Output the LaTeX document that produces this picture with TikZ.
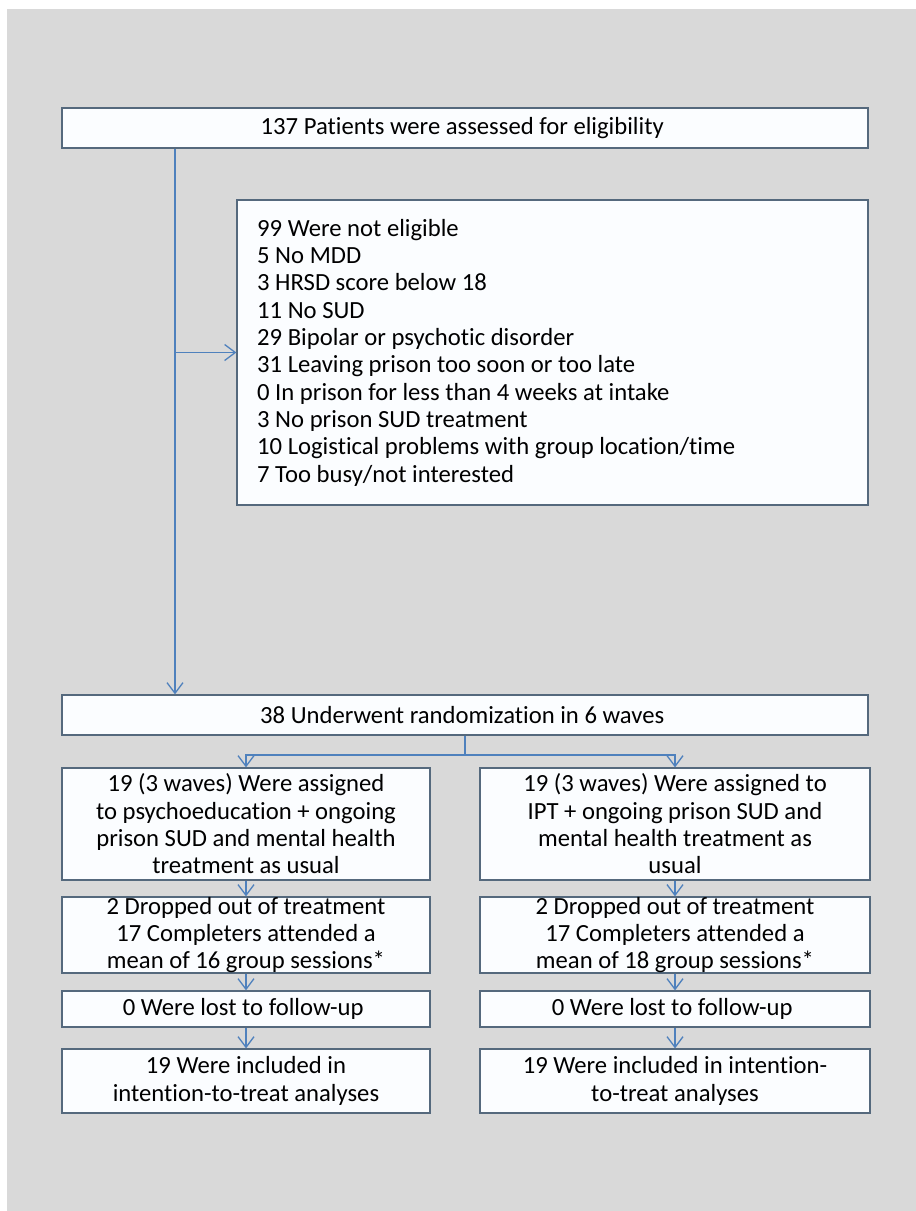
\documentclass[tikz,border=0pt]{standalone}
\usepackage{fontspec}
\setmainfont{Carlito}[Ligatures=NoCommon]
\usepackage{xcolor}
\usepackage{tikz}
\usetikzlibrary{arrows.meta, positioning, calc}
\definecolor{bggray}{RGB}{217, 217, 217}
\definecolor{boxline}{RGB}{85, 105, 125}
\definecolor{boxfill}{RGB}{251, 253, 255}
\definecolor{arrowblue}{RGB}{79, 129, 189}

\tikzset{
    flowbox/.style={draw=boxline, fill=boxfill, line width=0.9pt, inner sep=0pt, align=center,
        font=\fontsize{18.5}{20.5}\selectfont},
    flowarrow/.style={-{Straight Barb[length=8pt, width=12pt]}, arrowblue, line width=1pt},
    flowline/.style={arrowblue, line width=1pt}
}

\begin{document}
\begin{tikzpicture}[x=0.75pt, y=-0.75pt]
        % Background
        \fill[white] (0,0) rectangle (916,1211);
        \fill[bggray] (7,9) rectangle (916,1211);
        \useasboundingbox (0,0) rectangle (916,1211);

        % Assessed Box
        \node[flowbox, minimum width=604.5pt, minimum height=30pt] (assess) at (465,128) {
            137 Patients were assessed for eligibility
        };

        % Not eligible Box
        \node[flowbox, minimum width=473.25pt, minimum height=228.75pt, text width=443pt, align=flush left] (excl) at (552.5,352.5) {
            99 Were not eligible\\
            5 No MDD\\
            3 HRSD score below 18\\
            11 No SUD\\
            29 Bipolar or psychotic disorder\\
            31 Leaving prison too soon or too late\\
            0 In prison for less than 4 weeks at intake\\
            3 No prison SUD treatment\\
            10 Logistical problems with group location/time\\
            7 Too busy/not interested
        };

        % Randomization Box
        \node[flowbox, minimum width=604.5pt, minimum height=30pt] (rand) at (465,715) {
            38 Underwent randomization in 6 waves
        };

        % Assignment Boxes
        \node[flowbox, minimum width=276pt, minimum height=84pt] (psyassign) at (246,824) {
            19 (3 waves) Were assigned\\to psychoeducation + ongoing\\prison SUD and mental health\\treatment as usual
        };
        \node[flowbox, minimum width=292.5pt, minimum height=84pt] (iptassign) at (675,824) {
            19 (3 waves) Were assigned to\\IPT + ongoing prison SUD and\\mental health treatment as\\usual
        };

        % Treatment Boxes
        \node[flowbox, minimum width=276pt, minimum height=52pt] (psytreat) at (246,935) {
            2 Dropped out of treatment\\17 Completers attended a\\mean of 16 group sessions*
        };
        \node[flowbox, minimum width=292.5pt, minimum height=52pt] (ipttreat) at (675,935) {
            2 Dropped out of treatment\\17 Completers attended a\\mean of 18 group sessions*
        };

        % Follow-up Boxes
        \node[flowbox, minimum width=276pt, minimum height=27pt] (psylost) at (246,1009) {
            0 Were lost to follow-up
        };
        \node[flowbox, minimum width=292.5pt, minimum height=27pt] (iptlost) at (675,1009) {
            0 Were lost to follow-up
        };

        % Analysis Boxes
        \node[flowbox, minimum width=276pt, minimum height=48pt] (psyitt) at (246,1081) {
            19 Were included in\\intention-to-treat analyses
        };
        \node[flowbox, minimum width=292.5pt, minimum height=48pt] (iptitt) at (675,1081) {
            19 Were included in intention-\\to-treat analyses
        };

        % Arrows
        \coordinate (trunk) at (175,0);
        \coordinate (split) at (465,755);
        \draw[flowarrow] (assess.south -| trunk) -- (rand.north -| trunk);
        \draw[flowarrow] (excl.west -| trunk) -- (excl.west);
        \draw[flowline] (rand.south) -- (split);
        \draw[flowarrow] (split) -| (psyassign.north);
        \draw[flowarrow] (split) -| (iptassign.north);
        \draw[flowarrow] (psyassign) -- (psytreat);
        \draw[flowarrow] (iptassign) -- (ipttreat);
        \draw[flowarrow] (psytreat) -- (psylost);
        \draw[flowarrow] (ipttreat) -- (iptlost);
        \draw[flowarrow] (psylost) -- (psyitt);
        \draw[flowarrow] (iptlost) -- (iptitt);
    \end{tikzpicture}
\end{document}
